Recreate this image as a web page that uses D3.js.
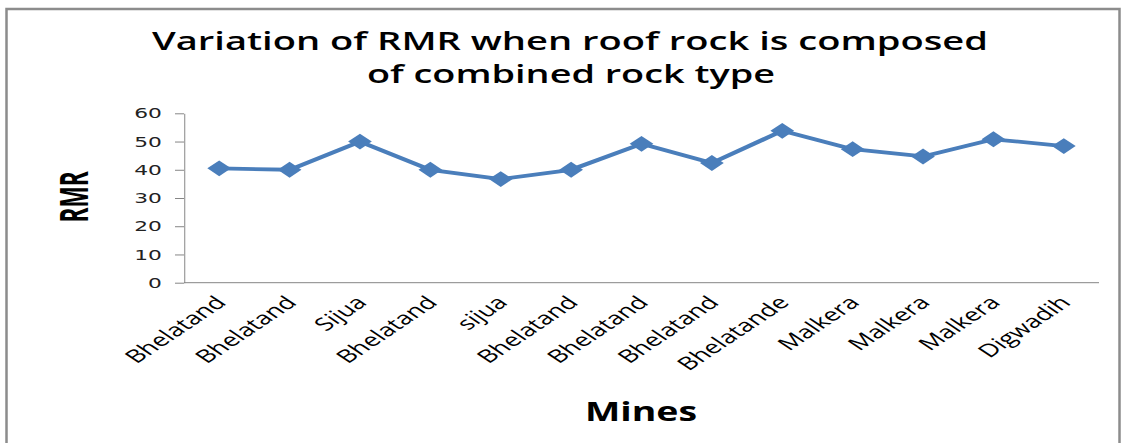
<!DOCTYPE html>
<html>
<head>
<meta charset="utf-8">
<script src="https://cdn.jsdelivr.net/npm/d3@7"></script>
<style>
  html, body { margin: 0; padding: 0; background: #fff; }
  svg { display: block; }
</style>
</head>
<body>
<script>
// ---- data ----
const categories = ["Bhelatand", "Bhelatand", "Sijua", "Bhelatand", "sijua", "Bhelatand",
  "Bhelatand", "Bhelatand", "Bhelatande", "Malkera", "Malkera", "Malkera", "Digwadih"];
const rmrValues = [40.5, 40, 50, 40, 36.7, 40, 49.2, 42.4, 53.8, 47.3, 44.7, 50.8, 48.4];
const yTicks = [0, 10, 20, 30, 40, 50, 60];
const titleLines = ["Variation of RMR when roof rock is composed", "of combined rock type"];
const xTitle = "Mines";
const yTitle = "RMR";

// ---- layout ----
const W = 1126, H = 443;
const SX = 1.5; // horizontal stretch of the original picture
const plotLeft = 184 / SX, plotRight = 1099 / SX;
const plotTop = 113.3, plotBottom = 282.7;
const blue = "#4a7ebb";

const svg = d3.select("body").append("svg").attr("width", W).attr("height", H);

// outer border
svg.append("rect")
  .attr("x", 6.5).attr("y", 9).attr("width", 1113).attr("height", 460)
  .attr("fill", "none").attr("stroke", "#8c8c8c").attr("stroke-width", 2.5);

const g = svg.append("g").attr("transform", `scale(${SX},1)`);

const x = d3.scalePoint().domain(d3.range(categories.length))
  .range([plotLeft, plotRight]).padding(0.5);
const y = d3.scaleLinear().domain([0, 60]).range([plotBottom, plotTop]);

// y axis
const yAxis = g.append("g").attr("transform", `translate(${plotLeft},0)`)
  .call(d3.axisLeft(y).tickValues(yTicks).tickSize(6).tickPadding(8.7).tickSizeOuter(0));
yAxis.select(".domain").attr("stroke", "#868686").attr("vector-effect", "non-scaling-stroke");
yAxis.selectAll(".tick line").attr("stroke", "#868686").attr("vector-effect", "non-scaling-stroke");
yAxis.selectAll(".tick text")
  .attr("font-family", "DejaVu Sans").attr("font-size", 14.5).attr("fill", "#222");

// x axis
const xAxis = g.append("g").attr("transform", `translate(0,${plotBottom})`)
  .call(d3.axisBottom(x).tickSize(0).tickSizeOuter(0).tickFormat(i => categories[i]));
xAxis.select(".domain").attr("stroke", "#868686")
  .attr("d", `M${plotLeft},0H${plotRight}`).attr("vector-effect", "non-scaling-stroke");
xAxis.selectAll(".tick text")
  .attr("font-family", "Open Sans").attr("font-size", 18).attr("fill", "#000")
  .attr("text-anchor", "end")
  .attr("dy", 0).attr("y", 0)
  .attr("transform", "translate(5,21) rotate(-45)");

// line
const line = d3.line().x((d, i) => x(i)).y(d => y(d));
g.append("path").datum(rmrValues)
  .attr("d", line).attr("fill", "none")
  .attr("stroke", blue).attr("stroke-width", 3.8).attr("stroke-linejoin", "round");

// markers (diamonds)
g.selectAll(".mk").data(rmrValues).join("path")
  .attr("class", "mk")
  .attr("d", d3.symbol().type(d3.symbolSquare).size(125))
  .attr("transform", (d, i) => `translate(${x(i)},${y(d)}) rotate(45)`)
  .attr("fill", blue);

// title
const tl = g.append("g").attr("font-family", "Open Sans").attr("font-weight", 600)
  .attr("font-size", 25).attr("text-anchor", "middle").attr("fill", "#000");
tl.append("text").attr("x", 570 / SX).attr("y", 50)
  .attr("textLength", 836 / SX).attr("lengthAdjust", "spacingAndGlyphs").text(titleLines[0]);
tl.append("text").attr("x", 571 / SX).attr("y", 83)
  .attr("textLength", 408 / SX).attr("lengthAdjust", "spacingAndGlyphs").text(titleLines[1]);

// axis titles
g.append("text").attr("x", 641 / SX).attr("y", 421)
  .attr("font-family", "Open Sans").attr("font-weight", "bold").attr("font-size", 26)
  .attr("text-anchor", "middle").attr("textLength", 112 / SX).attr("lengthAdjust", "spacingAndGlyphs")
  .text(xTitle);

g.append("text")
  .attr("transform", `translate(${88 / SX},197) rotate(-90)`)
  .attr("font-family", "Open Sans").attr("font-weight", "bold").attr("font-size", 26)
  .attr("text-anchor", "middle").attr("textLength", 51).attr("lengthAdjust", "spacingAndGlyphs")
  .text(yTitle);
</script>
</body>
</html>
